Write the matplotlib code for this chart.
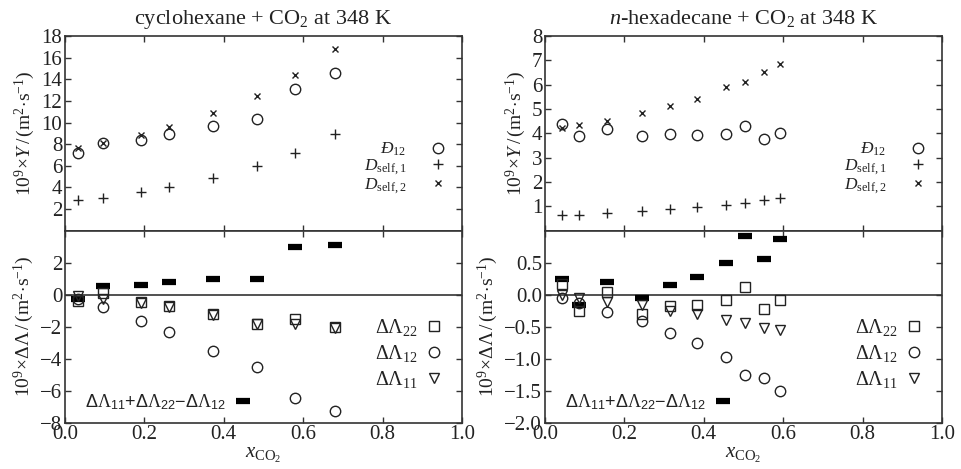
import numpy as np
import matplotlib
matplotlib.use('Agg')
import matplotlib.pyplot as plt
from matplotlib.lines import Line2D

plt.rcParams['font.family'] = ['Liberation Serif', 'DejaVu Serif']
plt.rcParams['mathtext.fontset'] = 'custom'
plt.rcParams['mathtext.rm'] = 'Liberation Serif'
plt.rcParams['mathtext.it'] = 'Liberation Serif:italic'
plt.rcParams['mathtext.bf'] = 'Liberation Serif:bold'
plt.rcParams['mathtext.sf'] = 'Liberation Sans'
plt.rcParams['font.size'] = 14
plt.rcParams['axes.unicode_minus'] = True

# cyclohexane + CO2 at 348 K
x_cyc = [0.032, 0.095, 0.192, 0.261, 0.372, 0.484, 0.579, 0.681]
d12_cyc = [7.2, 8.1, 8.4, 8.9, 9.7, 10.3, 13.1, 14.6]
dself1_cyc = [2.8, 3.0, 3.6, 4.0, 4.9, 6.0, 7.2, 8.9]
dself2_cyc = [7.6, 8.1, 8.8, 9.6, 10.9, 12.5, 14.4, 16.8]
dl22_cyc = [-0.4, 0.1, -0.45, -0.7, -1.2, -1.85, -1.55, -2.05]
dl12_cyc = [-0.25, -0.8, -1.65, -2.35, -3.5, -4.55, -6.45, -7.3]
dl11_cyc = [-0.1, -0.25, -0.55, -0.8, -1.3, -1.85, -1.85, -2.1]
dsum_cyc = [-0.25, 0.55, 0.6, 0.8, 1.0, 0.95, 2.95, 3.1]

# n-hexadecane + CO2 at 348 K
x_hex = [0.044, 0.086, 0.155, 0.245, 0.316, 0.384, 0.456, 0.503, 0.551, 0.591]
d12_hex = [4.4, 3.91, 4.17, 3.89, 3.96, 3.95, 3.99, 4.29, 3.78, 4.0]
dself1_hex = [0.64, 0.65, 0.72, 0.79, 0.87, 0.95, 1.07, 1.12, 1.24, 1.32]
dself2_hex = [4.23, 4.33, 4.52, 4.84, 5.12, 5.4, 5.89, 6.13, 6.53, 6.87]
dl22_hex = [0.17, -0.26, 0.04, -0.3, -0.18, -0.16, -0.09, 0.11, -0.22, -0.08]
dl12_hex = [-0.06, -0.14, -0.27, -0.42, -0.6, -0.75, -0.98, -1.26, -1.3, -1.5]
dl11_hex = [0.0, -0.05, -0.12, -0.17, -0.26, -0.31, -0.4, -0.44, -0.52, -0.55]
dsum_hex = [0.24, -0.17, 0.2, -0.06, 0.15, 0.27, 0.49, 0.92, 0.55, 0.87]

TXT = '#222222'
EDGE = '#333333'
SUM_LABEL = (r'$\mathsf{\Delta}\mathit{\Lambda}_{\mathsf{11}}$+'
             r'$\mathsf{\Delta}\mathit{\Lambda}_{\mathsf{22}}$' '\u2212'
             r'$\mathsf{\Delta}\mathit{\Lambda}_{\mathsf{12}}$')


def style_axes(ax):
    for s in ax.spines.values():
        s.set_color(EDGE)
        s.set_linewidth(1.2)
    ax.tick_params(direction='in', top=True, right=True, length=4,
                   width=1.0, colors=EDGE, labelcolor=TXT, labelsize=15, pad=2)


def top_panel(ax, x, d12, ds1, ds2, ylim, yticks, title):
    ax.plot(x, d12, 'o', ms=7.5, mfc='none', mec=TXT, mew=1.0, label=r'$\mathit{Đ}_{12}$')
    ax.plot(x, ds1, '+', ms=7.5, mec=TXT, mew=1.0, label=r'$D_{\mathrm{self,1}}$')
    ax.plot(x, ds2, 'x', ms=5, mec=TXT, mew=1.0, label=r'$D_{\mathrm{self,2}}$')
    ax.set_xlim(0, 1)
    ax.set_ylim(*ylim)
    ax.set_yticks(yticks)
    ax.set_xticks(np.arange(0, 1.01, 0.2))
    ax.tick_params(labelbottom=False)
    style_axes(ax)
    ax.set_ylabel(r'$10^9\!\times\!Y\,/\,(\mathrm{m}^2\!\cdot\!\mathrm{s}^{-1})$',
                  color=TXT, labelpad=3, fontsize=14)
    ax.set_title(title, color=TXT, fontsize=16, pad=9)
    ax.legend(loc='center right', bbox_to_anchor=(1.0, 0.32), frameon=False,
              markerfirst=False, handlelength=1.0, handletextpad=1.3,
              labelspacing=-0.05, fontsize=12.5, labelcolor=TXT)


def bottom_panel(ax, x, dl22, dl12, dl11, dsum, ylim, yticks, fmt):
    ax.axhline(0, color=EDGE, lw=1.2)
    ax.plot(x, dsum, '_', ms=10, mec='black', mew=4.5)
    h22, = ax.plot(x, dl22, 's', ms=6.5, mfc='none', mec=TXT, mew=1.0)
    h12, = ax.plot(x, dl12, 'o', ms=7.5, mfc='none', mec=TXT, mew=1.0)
    h11, = ax.plot(x, dl11, 'v', ms=7, mfc='none', mec=TXT, mew=1.0)
    ax.set_xlim(0, 1)
    ax.set_ylim(*ylim)
    ax.set_yticks(yticks)
    ax.set_yticklabels([fmt.format(v).replace('-', '\u2212') for v in yticks])
    ax.set_xticks(np.arange(0, 1.01, 0.2))
    ax.set_xticklabels(['%.1f' % v for v in np.arange(0, 1.01, 0.2)])
    style_axes(ax)
    ax.set_ylabel(r'$10^9\!\times\!\Delta\mathit{\Lambda}\,/\,(\mathrm{m}^2\!\cdot\!\mathrm{s}^{-1})$',
                  color=TXT, labelpad=3, fontsize=14)
    ax.set_xlabel(r'$x_{\mathrm{CO}_2}$', color=TXT, labelpad=1, fontsize=15)
    leg = ax.legend([h22, h12, h11],
                    [r'$\Delta\mathit{\Lambda}_{22}$', r'$\Delta\mathit{\Lambda}_{12}$',
                     r'$\Delta\mathit{\Lambda}_{11}$'],
                    loc='center right', bbox_to_anchor=(1.0, 0.36), frameon=False,
                    markerfirst=False, handlelength=1.0, handletextpad=0.3,
                    labelspacing=0.25, fontsize=14.5, labelcolor=TXT)
    ax.add_artist(leg)
    hs = Line2D([], [], ls='none', marker='_', ms=10, mec='black', mew=4.5)
    ax.legend([hs], [SUM_LABEL],
              loc='lower left', bbox_to_anchor=(0.01, -0.03), frameon=False,
              markerfirst=False, handlelength=1.0, handletextpad=0.4,
              prop={'family': 'Liberation Sans', 'size': 13}, labelcolor=TXT)


def plot_all():
    fig = plt.figure(figsize=(9.61, 4.69), dpi=100)
    top, mid, bot = 0.923, 0.5085, 0.0991
    w = 0.4131
    ax1 = fig.add_axes([0.0676, mid, w, top - mid])
    ax2 = fig.add_axes([0.0676, bot, w, mid - bot])
    ax3 = fig.add_axes([0.5671, mid, w, top - mid])
    ax4 = fig.add_axes([0.5671, bot, w, mid - bot])

    top_panel(ax1, x_cyc, d12_cyc, dself1_cyc, dself2_cyc, (0, 18),
              np.arange(2, 19, 2), r'cyclohexane + CO$_2$ at 348 K')
    bottom_panel(ax2, x_cyc, dl22_cyc, dl12_cyc, dl11_cyc, dsum_cyc, (-8, 4),
                 np.arange(-8, 3, 2), '{:.0f}')
    top_panel(ax3, x_hex, d12_hex, dself1_hex, dself2_hex, (0, 8),
              np.arange(1, 9, 1), r'$n$-hexadecane + CO$_2$ at 348 K')
    bottom_panel(ax4, x_hex, dl22_hex, dl12_hex, dl11_hex, dsum_hex, (-2, 1),
                 np.arange(-2, 0.51, 0.5), '{:.1f}')

    fig.savefig('out.png', dpi=100)


if __name__ == "__main__":
    plot_all()
